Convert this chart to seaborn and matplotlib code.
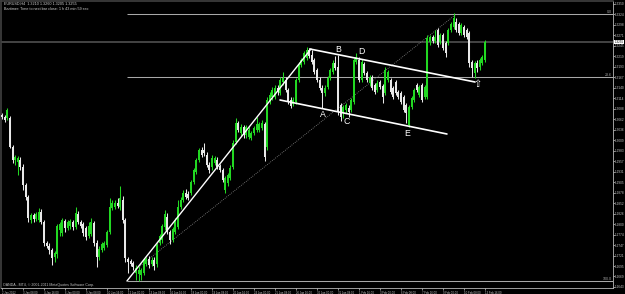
import numpy as np
import pandas as pd
import matplotlib
matplotlib.use("Agg")
import matplotlib.pyplot as plt
from matplotlib.transforms import blended_transform_factory
import seaborn as sns

# ---------------- data (EURUSD, H4) ----------------
opens = [
    1.30725, 1.30675, 1.30650, 1.30650, 1.29925, 1.29600, 1.29550, 1.29600, 1.29425, 1.28975,
    1.28675, 1.28100, 1.28225, 1.28125, 1.28100, 1.28300, 1.28050, 1.27525, 1.27450, 1.27350,
    1.27175, 1.27250, 1.27850, 1.27775, 1.28075, 1.27900, 1.27950, 1.28050, 1.27925, 1.28250,
    1.28050, 1.28000, 1.27900, 1.27700, 1.27750, 1.28025, 1.27525, 1.27175, 1.27350, 1.27400,
    1.27475, 1.27800, 1.28400, 1.28425, 1.28525, 1.28425, 1.28600, 1.28100, 1.27125, 1.27075,
    1.27025, 1.26775, 1.26750, 1.26725, 1.26775, 1.27000, 1.27125, 1.27000, 1.27100, 1.27000,
    1.27525, 1.27600, 1.27925, 1.28175, 1.27800, 1.27600, 1.27800, 1.27925, 1.28425, 1.28600,
    1.28775, 1.28750, 1.28775, 1.29050, 1.29300, 1.29600, 1.29850, 1.29850, 1.29725, 1.29475,
    1.29425, 1.29525, 1.29600, 1.29450, 1.29350, 1.28850, 1.29025, 1.29150, 1.29425, 1.30050,
    1.30525, 1.30275, 1.30425, 1.30225, 1.30175, 1.30150, 1.30275, 1.30350, 1.30350, 1.30400,
    1.30500, 1.29925, 1.31050, 1.31175, 1.31175, 1.31400, 1.31275, 1.31550, 1.31600, 1.31350,
    1.31100, 1.31000, 1.31050, 1.31600, 1.31975, 1.32050, 1.32150, 1.32350, 1.32225, 1.32100,
    1.31850, 1.31600, 1.31400, 1.31275, 1.31425, 1.31650, 1.31800, 1.32025, 1.31925, 1.30975,
    1.30775, 1.30850, 1.30900, 1.30850, 1.31050, 1.32050, 1.32100, 1.31600, 1.32000, 1.31775,
    1.31525, 1.31675, 1.31475, 1.31350, 1.31550, 1.31450, 1.31275, 1.31600, 1.31600, 1.31400,
    1.31550, 1.31300, 1.31275, 1.31175, 1.30975, 1.30475, 1.30925, 1.31100, 1.31475, 1.31225,
    1.31475, 1.31175, 1.31175, 1.32550, 1.32675, 1.32575, 1.32850, 1.32550, 1.32725, 1.32525,
    1.32525, 1.32850, 1.32925, 1.33050, 1.33000, 1.32775, 1.32925, 1.32850, 1.32775, 1.32050,
    1.31775, 1.32025, 1.31925, 1.32025, 1.32100]

highs = [
    1.30775, 1.30725, 1.30900, 1.30700, 1.29975, 1.29725, 1.29700, 1.29675, 1.29500, 1.29025,
    1.28725, 1.28275, 1.28275, 1.28300, 1.28400, 1.28375, 1.28100, 1.27575, 1.27525, 1.27400,
    1.27325, 1.28000, 1.28050, 1.28150, 1.28125, 1.28100, 1.28125, 1.28100, 1.28425, 1.28325,
    1.28100, 1.28050, 1.27950, 1.28050, 1.28150, 1.28075, 1.27600, 1.27450, 1.27550, 1.27575,
    1.27850, 1.28650, 1.28600, 1.28600, 1.28650, 1.28950, 1.28700, 1.28150, 1.27175, 1.27125,
    1.27075, 1.26975, 1.26950, 1.26900, 1.27150, 1.27175, 1.27200, 1.27175, 1.27175, 1.27525,
    1.27750, 1.28000, 1.28350, 1.28275, 1.27850, 1.27925, 1.28150, 1.28600, 1.28675, 1.28850,
    1.28875, 1.28825, 1.29100, 1.29400, 1.29650, 1.29900, 1.29925, 1.30025, 1.29800, 1.29550,
    1.29725, 1.29700, 1.29675, 1.29500, 1.29400, 1.29200, 1.29275, 1.29475, 1.30100, 1.30650,
    1.30575, 1.30500, 1.30475, 1.30475, 1.30425, 1.30325, 1.30450, 1.30675, 1.30550, 1.30600,
    1.30550, 1.31175, 1.31300, 1.31425, 1.31475, 1.31475, 1.31675, 1.31800, 1.31675, 1.31400,
    1.31175, 1.31175, 1.31650, 1.32050, 1.32150, 1.32325, 1.32425, 1.32400, 1.32350, 1.32150,
    1.31900, 1.31675, 1.31475, 1.31475, 1.31700, 1.31900, 1.32100, 1.32200, 1.32225, 1.31025,
    1.30975, 1.31025, 1.30975, 1.31150, 1.32150, 1.32275, 1.32175, 1.32125, 1.32050, 1.31825,
    1.31725, 1.31725, 1.31525, 1.31600, 1.31600, 1.31500, 1.31925, 1.31850, 1.31650, 1.31450,
    1.31600, 1.31350, 1.31325, 1.31225, 1.31025, 1.30975, 1.31200, 1.31400, 1.31525, 1.31475,
    1.31525, 1.31475, 1.32725, 1.32725, 1.32725, 1.32850, 1.32900, 1.32775, 1.32775, 1.32575,
    1.32900, 1.33050, 1.33275, 1.33150, 1.33050, 1.33025, 1.32975, 1.32900, 1.32825, 1.32100,
    1.32075, 1.32100, 1.32150, 1.32225, 1.32600]

lows = [
    1.30625, 1.30550, 1.30600, 1.29900, 1.29525, 1.29475, 1.29225, 1.29350, 1.28850, 1.28600,
    1.28050, 1.28025, 1.28050, 1.28075, 1.28050, 1.28000, 1.27450, 1.27400, 1.27250, 1.26975,
    1.27050, 1.27150, 1.27700, 1.27700, 1.27800, 1.27850, 1.27875, 1.27850, 1.27875, 1.28000,
    1.27900, 1.27700, 1.27600, 1.27650, 1.27700, 1.27450, 1.26925, 1.27100, 1.27300, 1.27350,
    1.27425, 1.27750, 1.28350, 1.28375, 1.28400, 1.28350, 1.28025, 1.27050, 1.26775, 1.26950,
    1.26850, 1.26600, 1.26575, 1.26600, 1.26725, 1.26950, 1.26900, 1.26950, 1.26850, 1.26925,
    1.27475, 1.27525, 1.27850, 1.27750, 1.27500, 1.27550, 1.27750, 1.27875, 1.28375, 1.28550,
    1.28625, 1.28600, 1.28725, 1.29000, 1.29250, 1.29550, 1.29675, 1.29700, 1.29425, 1.29275,
    1.29350, 1.29475, 1.29375, 1.29300, 1.29050, 1.28775, 1.28950, 1.29100, 1.29375, 1.30000,
    1.30300, 1.30200, 1.30150, 1.30150, 1.30125, 1.30100, 1.30225, 1.30300, 1.30300, 1.30350,
    1.29575, 1.29850, 1.31000, 1.31100, 1.31125, 1.31225, 1.31225, 1.31475, 1.31300, 1.31000,
    1.30900, 1.30950, 1.31000, 1.31550, 1.31925, 1.32000, 1.32100, 1.32150, 1.32000, 1.31750,
    1.31550, 1.31350, 1.30900, 1.31200, 1.31375, 1.31600, 1.31750, 1.31850, 1.30725, 1.30575,
    1.30650, 1.30775, 1.30675, 1.30800, 1.31000, 1.32000, 1.31550, 1.31550, 1.31725, 1.31550,
    1.31450, 1.31350, 1.31250, 1.31300, 1.31375, 1.31025, 1.31225, 1.31550, 1.31250, 1.31125,
    1.31225, 1.31125, 1.31000, 1.30800, 1.30525, 1.30425, 1.30875, 1.31050, 1.31300, 1.31175,
    1.31050, 1.31125, 1.31125, 1.32475, 1.32525, 1.32525, 1.32425, 1.32500, 1.32350, 1.32175,
    1.32475, 1.32800, 1.32875, 1.32800, 1.32725, 1.32725, 1.32675, 1.32625, 1.31925, 1.31675,
    1.31650, 1.31800, 1.31850, 1.31975, 1.32050]

closes = [
    1.30675, 1.30600, 1.30850, 1.29925, 1.29600, 1.29675, 1.29650, 1.29425, 1.28975, 1.28675,
    1.28150, 1.28225, 1.28125, 1.28250, 1.28300, 1.28050, 1.27525, 1.27450, 1.27350, 1.27150,
    1.27275, 1.27950, 1.28000, 1.28100, 1.27900, 1.28050, 1.28075, 1.27925, 1.28275, 1.28050,
    1.27950, 1.27775, 1.27675, 1.27950, 1.28050, 1.27525, 1.27175, 1.27375, 1.27500, 1.27525,
    1.27800, 1.28425, 1.28525, 1.28525, 1.28450, 1.28650, 1.28100, 1.27150, 1.27050, 1.27000,
    1.26925, 1.26900, 1.26850, 1.26850, 1.27100, 1.27125, 1.26975, 1.27100, 1.26950, 1.27475,
    1.27700, 1.27950, 1.28250, 1.27800, 1.27600, 1.27875, 1.28100, 1.28425, 1.28600, 1.28775,
    1.28675, 1.28650, 1.29050, 1.29350, 1.29600, 1.29850, 1.29725, 1.29775, 1.29475, 1.29350,
    1.29650, 1.29650, 1.29425, 1.29350, 1.29100, 1.29150, 1.29225, 1.29400, 1.30025, 1.30525,
    1.30350, 1.30425, 1.30225, 1.30425, 1.30350, 1.30275, 1.30400, 1.30500, 1.30500, 1.30525,
    1.29675, 1.31100, 1.31225, 1.31350, 1.31400, 1.31300, 1.31600, 1.31650, 1.31350, 1.31050,
    1.30950, 1.31100, 1.31600, 1.32000, 1.32100, 1.32275, 1.32350, 1.32200, 1.32050, 1.31800,
    1.31600, 1.31400, 1.31275, 1.31400, 1.31650, 1.31850, 1.32025, 1.31900, 1.30800, 1.30675,
    1.30925, 1.30975, 1.30800, 1.31100, 1.32100, 1.32175, 1.31600, 1.32050, 1.31775, 1.31600,
    1.31675, 1.31400, 1.31300, 1.31525, 1.31425, 1.31175, 1.31850, 1.31800, 1.31300, 1.31175,
    1.31275, 1.31175, 1.31050, 1.30850, 1.30775, 1.30925, 1.31150, 1.31350, 1.31350, 1.31425,
    1.31100, 1.31425, 1.32650, 1.32675, 1.32575, 1.32675, 1.32475, 1.32725, 1.32400, 1.32275,
    1.32850, 1.33000, 1.33150, 1.32850, 1.32775, 1.32975, 1.32725, 1.32675, 1.32025, 1.31900,
    1.32025, 1.31900, 1.32100, 1.32175, 1.32550]

tick_labels = ["2 Jan 2012", "3 Jan 08:00", "4 Jan 16:00", "6 Jan 00:00", "9 Jan 08:00",
               "10 Jan 16:00", "12 Jan 00:00", "13 Jan 08:00", "16 Jan 16:00", "18 Jan 00:00",
               "19 Jan 08:00", "20 Jan 16:00", "24 Jan 00:00", "25 Jan 08:00", "26 Jan 16:00",
               "30 Jan 00:00", "31 Jan 08:00", "1 Feb 16:00", "3 Feb 00:00", "6 Feb 08:00",
               "7 Feb 16:00", "9 Feb 00:00", "10 Feb 08:00", "13 Feb 16:00"]
bars_per_label = 8

header_lines = ["EURUSD,H4  1.3210 1.3260 1.3205 1.3255",
                "Bartimer: Time to next bar close: 1 h 43 min 59 sec"]
footer_text = "OANDA - MT4, \u00a9 2001-2011 MetaQuotes Software Corp."

# Fibonacci retracement (anchored at the January low / February high)
fib_start_bar = 47.6
fib_low = 1.26575
fib_high = 1.33250
fib_levels = [0.0, 23.6, 100.0]

# Hand-drawn lines (bar index, price)
rise_bars, rise_prices = [47.6, 117.7], [1.26575, 1.32375]
flag_top_bars, flag_top_prices = [117.3, 180.2], [1.32375, 1.31550]
flag_bot_bars, flag_bot_prices = [105.9, 169.5], [1.31100, 1.30250]
dot_bars, dot_prices = [52.6, 172.6], [1.26950, 1.33225]

wave_labels = ["A", "B", "C", "D", "E"]
wave_bars = [122.1, 128.2, 131.4, 137.1, 154.2]
wave_prices = [1.30725, 1.32350, 1.30550, 1.32300, 1.30250]
arrow_bar, arrow_price = 181.1, 1.31500

# ---------------- styling ----------------
sns.set_theme(style="dark", rc={"axes.facecolor": "black", "figure.facecolor": "black",
                                "axes.grid": False})
plt.rcParams["font.family"] = ["Liberation Sans", "DejaVu Sans"]

df = pd.DataFrame({"open": opens, "high": highs, "low": lows, "close": closes})
df["bar"] = np.arange(len(df))
df["bull"] = df["close"] > df["open"]
UP, DOWN = "#22d822", "#e8e8e8"
cols = np.where(df["bull"], UP, DOWN)

W, H = 625, 294
fig = plt.figure(figsize=(W / 100, H / 100), dpi=100)
ax = fig.add_axes([1 / W, 1 - 288 / H, (612.5 - 1) / W, 287 / H])
ax.set_facecolor("black")

x_left = (1 - 2) / 2.625
x_right = (612.5 - 2) / 2.625
ax.set_xlim(x_left, x_right)
ax.set_ylim(1.33600 - 0.00025 * 288, 1.33600 - 0.00025 * 1)

# Fibonacci levels
fib_col = "#a8a8a8"
for lv in fib_levels:
    p = fib_high - (fib_high - fib_low) * lv / 100.0
    ax.hlines(p, fib_start_bar, x_right, color=fib_col, lw=0.75, zorder=1)
    ax.text(x_right - 0.4, p + 0.00012, f"{lv:.1f}", ha="right", va="bottom",
            fontsize=2.6, color=fib_col, zorder=5)

# Bid line
last_close = df["close"].iloc[-1]
ax.axhline(last_close, color="#444444", lw=1.4, zorder=1)

# dotted line
sns.lineplot(x=dot_bars, y=dot_prices, ax=ax, color="#8a8a8a", lw=0.6,
             linestyle=(0, (1, 1.5)), estimator=None, sort=False, zorder=2)

# candles
ax.vlines(df["bar"], df["low"], df["high"], colors=cols, lw=0.75, zorder=3)
body_bottom = np.minimum(df["open"], df["close"])
body_h = np.maximum(np.abs(df["close"] - df["open"]), 0.00004)
ax.bar(df["bar"], body_h, bottom=body_bottom, width=0.75, color=cols,
       linewidth=0, zorder=4)

# trend lines
for bx, py, lw in [(rise_bars, rise_prices, 1.0), (flag_top_bars, flag_top_prices, 1.2),
                   (flag_bot_bars, flag_bot_prices, 1.2)]:
    sns.lineplot(x=bx, y=py, ax=ax, color="white", lw=lw, estimator=None,
                 sort=False, zorder=6)

for lab, bx, py in zip(wave_labels, wave_bars, wave_prices):
    ax.text(bx, py, lab, ha="center", va="center", fontsize=6.3, color="white", zorder=7)
ax.text(arrow_bar, arrow_price, "\u21e7", ha="center", va="center", fontsize=7,
        color="white", family=["DejaVu Sans"], zorder=7)

# axes/ticks
ax.yaxis.tick_right()
yt = 1.33500 - 0.00262 * np.arange(0, 28)
ax.set_yticks(yt)
ax.set_yticklabels([f"{v:.4f}" for v in yt])
ax.tick_params(axis="y", which="both", right=True, left=False, direction="out",
               length=1.2, width=0.5, colors="#c8c8c8", labelsize=2.25, pad=0.6)

xt = np.arange(len(tick_labels)) * bars_per_label
ax.set_xticks(xt)
ax.set_xticklabels(tick_labels)
for t in ax.get_xticklabels():
    t.set_ha("left")
ax.tick_params(axis="x", bottom=True, direction="out", length=1.5, width=0.5,
               colors="#c8c8c8", labelsize=1.95, pad=0.6)
ax.set_xlabel("")
ax.set_ylabel("")

for side in ["top", "left"]:
    ax.spines[side].set_color("#404040")
    ax.spines[side].set_linewidth(1.2)
for side in ["bottom", "right"]:
    ax.spines[side].set_color("#b8b8b8")
    ax.spines[side].set_linewidth(0.6)

# bid price label on the right scale
tr = blended_transform_factory(ax.transAxes, ax.transData)
ax.text(1.003, last_close, f"{last_close:.4f}", transform=tr, ha="left", va="center",
        fontsize=2.2, color="black", zorder=10, clip_on=False,
        bbox=dict(boxstyle="square,pad=0.12", fc="white", ec="none"))

# header / footer text
fig.text(4 / W, 1 - 2 / H, header_lines[0], ha="left", va="top", fontsize=2.7, color="#d0d0d0")
fig.text(4 / W, 1 - 6.5 / H, header_lines[1], ha="left", va="top", fontsize=2.7, color="#d0d0d0")
ax.text(0.003, 0.004, footer_text, transform=ax.transAxes, ha="left", va="bottom",
        fontsize=2.6, color="#c0c0c0")

fig.savefig("out.png", dpi=100, facecolor="black")
